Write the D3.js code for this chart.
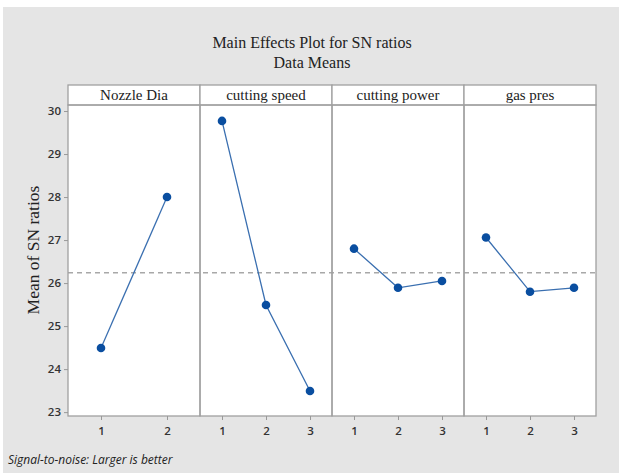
<!DOCTYPE html>
<html><head><meta charset="utf-8">
<script src="https://cdn.jsdelivr.net/npm/d3@7"></script>
<style>body{margin:0;background:#fff;}svg{display:block;}</style>
</head><body>
<svg id="c" width="619" height="473"></svg>
<script>
const factors = ["Nozzle Dia", "cutting speed", "cutting power", "gas pres"];
const levels = [["1","2"], ["1","2","3"], ["1","2","3"], ["1","2","3"]];
const nozzleDia = [24.49, 28.00];
const cuttingSpeed = [29.77, 25.49, 23.49];
const cuttingPower = [26.80, 25.89, 26.05];
const gasPres = [27.06, 25.80, 25.89];
const series = [nozzleDia, cuttingSpeed, cuttingPower, gasPres];
const grandMean = 26.24;
const yTicks = [23, 24, 25, 26, 27, 28, 29, 30];

const svg = d3.select("#c");
const W = 619, H = 473;
const L = 68, R = 596, T = 105, B = 416, stripH = 20;

svg.append("rect").attr("x", 3).attr("y", 7).attr("width", W - 3).attr("height", H - 7).attr("fill", "#e5e5e5");

svg.append("text").attr("x", 312).attr("y", 48).attr("text-anchor", "middle")
  .attr("font-family", "Liberation Serif").attr("font-size", 16).attr("fill", "#222")
  .text("Main Effects Plot for SN ratios");
svg.append("text").attr("x", 312).attr("y", 68).attr("text-anchor", "middle")
  .attr("font-family", "Liberation Serif").attr("font-size", 16).attr("fill", "#222")
  .text("Data Means");

const y = d3.scaleLinear().domain([22.91, 30.14]).range([B, T]);
const panelX = d3.scaleBand().domain(factors).range([L, R]);

svg.append("rect").attr("x", L).attr("y", T - stripH).attr("width", R - L).attr("height", B - T + stripH)
  .attr("fill", "#fff");

svg.append("line").attr("x1", L).attr("x2", R).attr("y1", y(grandMean)).attr("y2", y(grandMean))
  .attr("stroke", "#a8a8a8").attr("stroke-width", 1.5).attr("stroke-dasharray", "5,4");

const line = d3.line();
factors.forEach((f, i) => {
  const x0 = panelX(f), w = panelX.bandwidth();
  const x = d3.scalePoint().domain(levels[i]).range([x0, x0 + w]).padding(0.5);
  const g = svg.append("g");
  g.append("rect").attr("x", x0).attr("y", T - stripH).attr("width", w).attr("height", stripH)
    .attr("fill", "#fff").attr("stroke", "#a0a0a0").attr("stroke-width", 1.3);
  g.append("text").attr("x", x0 + w / 2).attr("y", T - 5).attr("text-anchor", "middle")
    .attr("font-family", "Liberation Serif").attr("font-size", 15).attr("fill", "#222").text(f);
  g.append("rect").attr("x", x0).attr("y", T).attr("width", w).attr("height", B - T)
    .attr("fill", "none").attr("stroke", "#a0a0a0").attr("stroke-width", 1.3);
  const ax = g.append("g").attr("transform", `translate(0,${B})`)
    .call(d3.axisBottom(x).tickSize(4).tickPadding(7));
  ax.select(".domain").remove();
  ax.selectAll("line").attr("stroke", "#999");
  ax.selectAll("text").attr("font-family", "Open Sans").attr("font-size", 11.5)
    .attr("font-weight", 600).attr("fill", "#333");
  const pts = series[i].map((v, j) => [x(levels[i][j]), y(v)]);
  g.append("path").attr("d", line(pts)).attr("fill", "none").attr("stroke", "#3a6fb0").attr("stroke-width", 1.3);
  g.selectAll("circle").data(pts).join("circle").attr("cx", d => d[0]).attr("cy", d => d[1]).attr("r", 4.3)
    .attr("fill", "#0a4ea0");
});

const ay = svg.append("g").attr("transform", `translate(${L},0)`)
  .call(d3.axisLeft(y).tickValues(yTicks).tickSize(4).tickPadding(3));
ay.select(".domain").remove();
ay.selectAll("line").attr("stroke", "#999");
ay.selectAll("text").attr("font-family", "Open Sans").attr("font-size", 11.5)
  .attr("font-weight", 600).attr("fill", "#333");

svg.append("text").attr("transform", "translate(39,250) rotate(-90)").attr("text-anchor", "middle")
  .attr("font-family", "Liberation Serif").attr("font-size", 17.5).attr("fill", "#222")
  .text("Mean of SN ratios");

svg.append("text").attr("x", 8).attr("y", 464)
  .attr("font-family", "Open Sans").attr("font-style", "italic").attr("font-size", 12).attr("fill", "#222")
  .text("Signal-to-noise: Larger is better");
</script>
</body></html>
